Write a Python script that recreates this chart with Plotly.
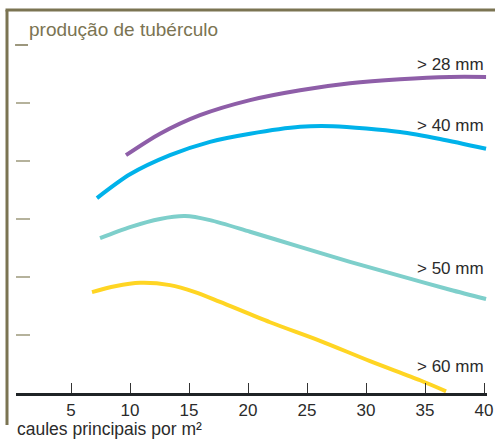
import plotly.graph_objects as go

# ---- data ----
x_28 = [9.66, 12.54, 15.93, 20.17, 24.41, 28.64, 32.88, 37.12, 40.17]
y_28 = [4.10, 4.47, 4.79, 5.05, 5.22, 5.34, 5.41, 5.45, 5.45]

x_40 = [7.20, 10.0, 13.39, 16.78, 20.17, 24.41, 27.20, 32.88, 36.27, 40.17]
y_40 = [3.36, 3.77, 4.10, 4.33, 4.47, 4.59, 4.60, 4.50, 4.38, 4.21]

x_50 = [7.46, 10.0, 12.54, 14.66, 16.78, 20.17, 24.41, 28.64, 32.88, 37.12, 40.17]
y_50 = [2.67, 2.86, 3.00, 3.05, 2.98, 2.78, 2.52, 2.26, 2.02, 1.78, 1.62]

x_60 = [6.78, 8.73, 10.85, 13.39, 15.51, 17.63, 21.86, 26.10, 30.34, 34.58, 36.78]
y_60 = [1.74, 1.84, 1.90, 1.86, 1.74, 1.57, 1.22, 0.90, 0.55, 0.22, 0.03]

series_labels = ["> 28 mm", "> 40 mm", "> 50 mm", "> 60 mm"]
label_y = [5.67, 4.62, 2.14, 0.45]
colors = ["#8E5EA8", "#00B2EA", "#7ECFCB", "#FFD523"]

x_ticks = [5, 10, 15, 20, 25, 30, 35, 40]
y_ticks = [1, 2, 3, 4, 5]

x_title = "caules principais por m²"
y_title = "produção de tubérculo"

OLIVE = "#7B7452"
FONT = "Liberation Sans, Arial"

fig = go.Figure()
for xs, ys, c in zip([x_28, x_40, x_50, x_60], [y_28, y_40, y_50, y_60], colors):
    fig.add_trace(go.Scatter(x=xs, y=ys, mode="lines",
                             line=dict(color=c, width=4, shape="spline", smoothing=0.8),
                             hoverinfo="skip", showlegend=False))

for lab, ly in zip(series_labels, label_y):
    fig.add_annotation(x=40.17, y=ly, xref="x", yref="y", text=lab, showarrow=False,
                       xanchor="right", yanchor="middle",
                       font=dict(size=17, color="#2b2b2b", family=FONT))

# frame
fig.add_shape(type="line", xref="paper", yref="paper", x0=-0.0191, x1=-0.0191, y0=0.9746, y1=-0.0814,
              line=dict(color=OLIVE, width=3))
fig.add_shape(type="line", xref="paper", yref="paper", x0=-0.0223, x1=1.02, y0=0.9746, y1=0.9746,
              line=dict(color=OLIVE, width=3))
# small dash before the y title
fig.add_shape(type="line", xref="paper", yref="paper", x0=-0.002, x1=0.0255, y0=0.8855, y1=0.8855,
              line=dict(color=OLIVE, width=1.5))

fig.add_annotation(xref="paper", yref="paper", x=0.024, y=0.925, text=y_title, showarrow=False,
                   xanchor="left", yanchor="middle",
                   font=dict(size=19, color=OLIVE, family=FONT))
fig.add_annotation(xref="paper", yref="paper", x=-0.003, y=-0.0916, text=x_title, showarrow=False,
                   xanchor="left", yanchor="middle",
                   font=dict(size=17.5, color="#2b2b2b", family=FONT))

fig.update_layout(
    width=495, height=440,
    margin=dict(l=16, r=8, t=0, b=47),
    paper_bgcolor="white", plot_bgcolor="white",
    xaxis=dict(range=[0.339, 40.25], tickvals=x_ticks, ticks="inside", ticklen=10,
               tickcolor="#333", tickwidth=1.2, showline=True, linecolor="#1f2326", linewidth=2.5,
               showgrid=False, zeroline=False,
               tickfont=dict(size=17, color="#2b2b2b", family=FONT)),
    yaxis=dict(range=[0, 6.776], tickvals=y_ticks, ticks="inside", ticklen=14,
               tickcolor="#B5B29C", tickwidth=1.5, showticklabels=False, showline=False,
               showgrid=False, zeroline=False),
)

fig.write_html("out.html", config={"displayModeBar": False},
               post_script="document.body.style.margin='0';document.body.style.overflow='hidden';")
